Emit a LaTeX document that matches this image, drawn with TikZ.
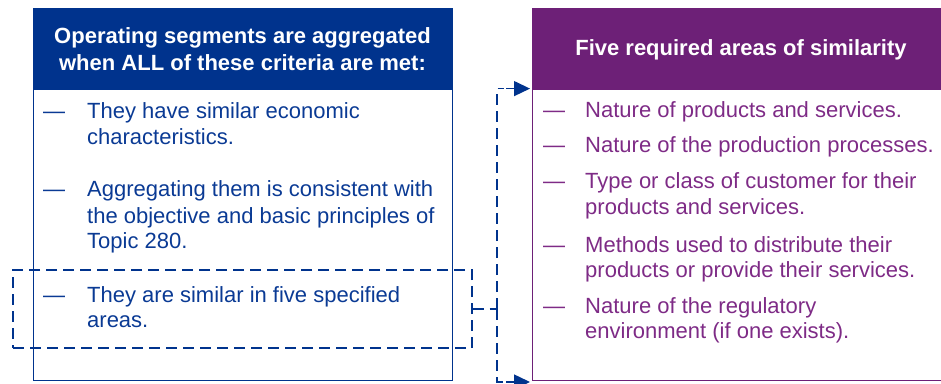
\documentclass[tikz,border=0pt]{standalone}
\usepackage{fontspec}
\setmainfont{Liberation Sans}
\usetikzlibrary{arrows.meta}
\definecolor{kblue}{HTML}{00338D}
\definecolor{kpurple}{HTML}{6D2077}
\definecolor{ptext}{HTML}{7E2B86}
\definecolor{btext}{HTML}{0A3A94}
\begin{document}
\begin{tikzpicture}[x=1pt,y=1pt,
  body/.style={font=\fontsize{22}{26}\selectfont, anchor=base west, inner sep=0pt},
  hdrtext/.style={font=\fontsize{22}{27}\bfseries\selectfont, text=white, align=center, inner sep=0pt},
  panel/.style={line width=1.4pt, minimum width=#1, minimum height=372pt, inner sep=0pt, anchor=south west},
  dashline/.style={draw=kblue, line width=1.4pt, dash pattern=on 11pt off 6pt},
  tipline/.style={draw=kblue, line width=1.4pt, solid, -{Triangle[length=16pt,width=15pt]}}
]
\useasboundingbox (0,0) rectangle (941,383);
% header fills
\fill[kblue] (33,293) rectangle (452,374);
\fill[kpurple] (532,293) rectangle (950,374);
% panels
\node[panel=419pt, draw=kblue] (lbox) at (33,2) {};
\node[panel=418pt, draw=kpurple] (rbox) at (532,2) {};
% headers
\node[hdrtext] (lhdr) at (242.5,333.5) {Operating segments are aggregated\\when ALL of these criteria are met:};
\node[hdrtext] (rhdr) at (741,333.5) {Five required areas of similarity};
% dashed highlight box
\node[dashline, minimum width=459pt, minimum height=78pt, inner sep=0pt] (dbox) at (242.5,74) {};
% left items
\begin{scope}[every node/.style={body, text=btext}]
\node (ld1) at (43,264) {—};
\node (lt1a) at (87,264) {They have similar economic};
\node (lt1b) at (87,238) {characteristics.};
\node (ld2) at (43,186) {—};
\node (lt2a) at (87,186) {Aggregating them is consistent with};
\node (lt2b) at (87,160) {the objective and basic principles of};
\node (lt2c) at (87,135) {Topic 280.};
\node (ld3) at (43,81) {—};
\node (lt3a) at (87,81) {They are similar in five specified};
\node (lt3b) at (87,56) {areas.};
\end{scope}
% right items
\begin{scope}[every node/.style={body, text=ptext}]
\node (rd1) at (543,265) {—};
\node (rt1) at (585,265) {Nature of products and services.};
\node (rd2) at (543,230) {—};
\node (rt2) at (585,230) {Nature of the production processes.};
\node (rd3) at (543,194) {—};
\node (rt3a) at (585,194) {Type or class of customer for their};
\node (rt3b) at (585,168) {products and services.};
\node (rd4) at (543,131) {—};
\node (rt4a) at (585,131) {Methods used to distribute their};
\node (rt4b) at (585,106) {products or provide their services.};
\node (rd5) at (543,70) {—};
\node (rt5a) at (585,70) {Nature of the regulatory};
\node (rt5b) at (585,45) {environment (if one exists).};
\end{scope}
% connectors
\coordinate (j) at (497,74);
\coordinate (at) at ([yshift=-81pt]rbox.north west);
\coordinate (ab) at ([yshift=-1pt]rbox.south west);
\draw[dashline] (dbox.east) -- (j);
\draw[dashline] (j) |- ([xshift=-28pt]at);
\draw[dashline] (j) |- ([xshift=-28pt]ab);
\draw[tipline] ([xshift=-26pt]at) -- ([xshift=-2pt]at);
\draw[tipline] ([xshift=-26pt]ab) -- ([xshift=-2pt]ab);
\end{tikzpicture}
\end{document}
